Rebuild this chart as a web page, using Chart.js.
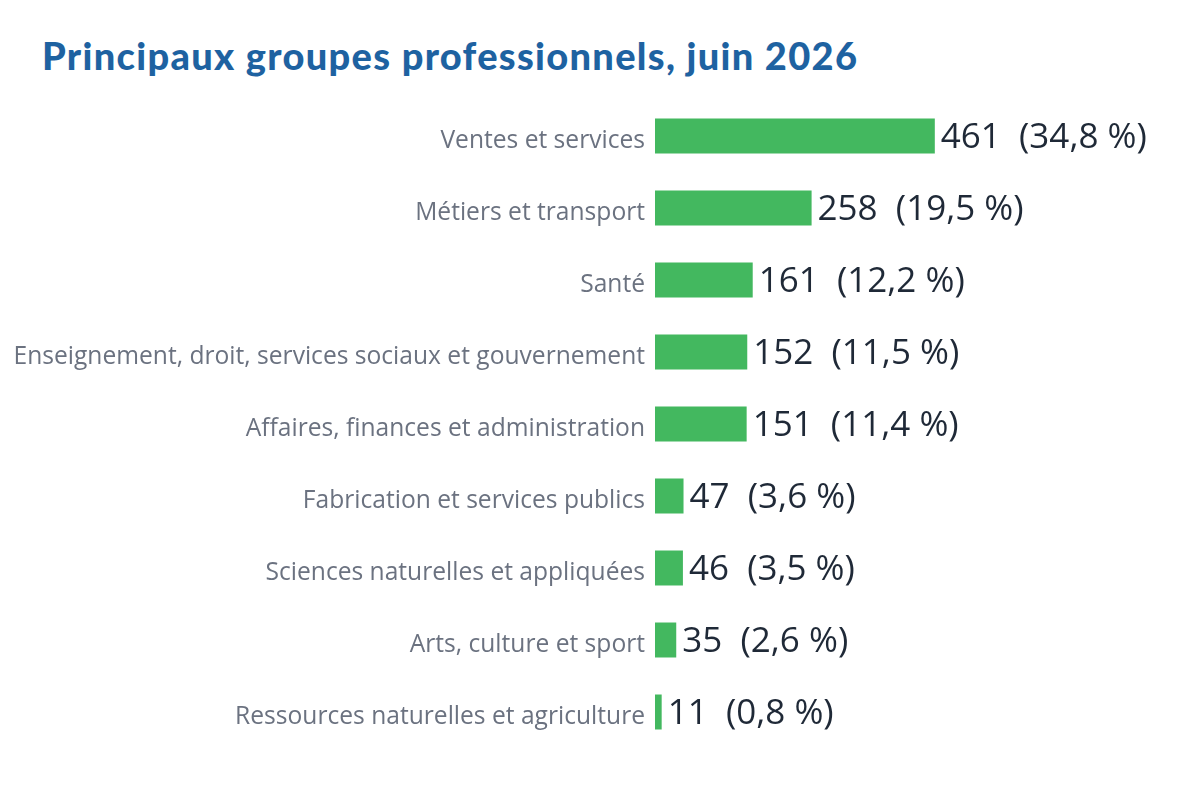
<!DOCTYPE html>
<html>
<head>
<meta charset="utf-8">
<script src="https://cdn.jsdelivr.net/npm/chart.js@4.4.1/dist/chart.umd.min.js"></script>
<style>
    body { margin: 0; background: #ffffff; }
    #wrap { position: relative; width: 1180px; height: 800px; }
    h1 {
        position: absolute;
        left: 42px;
        top: 33px;
        margin: 0;
        font-family: Lato, sans-serif;
        font-weight: 900;
        font-size: 38px;
        line-height: 44px;
        color: #1e62a1;
        letter-spacing: 1.3px;
    }
    canvas { position: absolute; left: 0; top: 0; }
</style>
</head>
<body>
<div id="wrap">
    <h1>Principaux groupes professionnels, juin 2026</h1>
    <canvas id="chart" width="1180" height="800"></canvas>
</div>
<script>
const categories = [
    'Ventes et services',
    'Métiers et transport',
    'Santé',
    'Enseignement, droit, services sociaux et gouvernement',
    'Affaires, finances et administration',
    'Fabrication et services publics',
    'Sciences naturelles et appliquées',
    'Arts, culture et sport',
    'Ressources naturelles et agriculture'
];
const counts = [461, 258, 161, 152, 151, 47, 46, 35, 11];
const shares = ['34,8', '19,5', '12,2', '11,5', '11,4', '3,6', '3,5', '2,6', '0,8'];

// draws "461  (34,8 %)" to the right of each bar
const valueLabels = {
    id: 'valueLabels',
    afterDatasetsDraw(chart) {
        const ctx = chart.ctx;
        const meta = chart.getDatasetMeta(0);
        ctx.save();
        ctx.font = '35px "Open Sans"';
        ctx.fillStyle = '#1f2937';
        ctx.textAlign = 'left';
        ctx.textBaseline = 'middle';
        meta.data.forEach((bar, i) => {
            ctx.fillText(counts[i] + '  (' + shares[i] + ' %)', bar.x + 6, bar.y + 2);
        });
        ctx.restore();
    }
};

new Chart(document.getElementById('chart'), {
    type: 'bar',
    data: {
        labels: categories,
        datasets: [{
            data: counts,
            backgroundColor: '#43b85f',
            borderWidth: 0,
            categoryPercentage: 1,
            barPercentage: 0.486
        }]
    },
    options: {
        indexAxis: 'y',
        responsive: false,
        animation: false,
        layout: {
            padding: { top: 100, bottom: 52, right: 20, left: 0 }
        },
        plugins: {
            legend: { display: false },
            tooltip: { enabled: false }
        },
        scales: {
            x: {
                display: false,
                min: 0,
                max: 832
            },
            y: {
                grid: { display: false },
                border: { display: false },
                afterFit(scale) { scale.width = 655; },
                ticks: {
                    padding: 2,
                    labelOffset: 5,
                    color: '#6b7280',
                    font: { family: 'Open Sans', size: 24.6 }
                }
            }
        }
    },
    plugins: [valueLabels]
});
</script>
</body>
</html>
